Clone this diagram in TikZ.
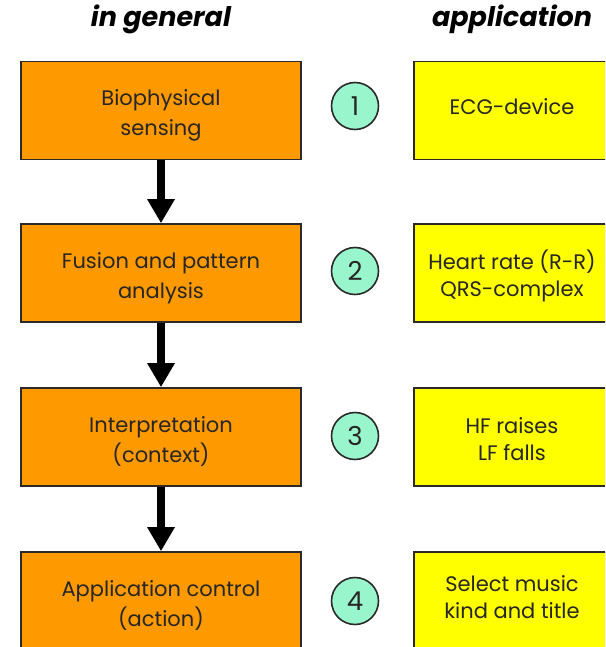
\documentclass[tikz,border=0pt]{standalone}
\usepackage{fontspec}
\setmainfont{Poppins}
\usetikzlibrary{arrows.meta}
\definecolor{boxorange}{HTML}{FF9900}
\definecolor{boxyellow}{HTML}{FFFF00}
\definecolor{mint}{HTML}{99F5CC}
\definecolor{edge}{HTML}{2A2A2A}
\definecolor{txt}{HTML}{262626}
\begin{document}
\begin{tikzpicture}[x=1pt,y=-1pt,
  genbox/.style={draw=edge,line width=1.6pt,fill=boxorange,minimum width=280pt,minimum height=98pt,
    align=center,text=txt,font=\fontsize{21}{30}\selectfont,inner sep=0pt},
  gentext/.style={align=center,text=txt,font=\fontsize{21}{30}\selectfont,inner sep=0pt},
  appbox/.style={draw=edge,line width=1.6pt,fill=boxyellow,minimum width=196pt,minimum height=98pt,
    inner sep=0pt},
  apptext/.style={align=center,text=txt,font=\fontsize{21}{27}\selectfont,inner sep=0pt},
  numcirc/.style={circle,draw=edge,line width=1.6pt,fill=mint,minimum size=47pt,inner sep=0pt,
    text=txt,font=\fontsize{26}{26}\selectfont},
  heading/.style={font=\fontsize{27}{27}\selectfont\bfseries\itshape,text=black},
  flow/.style={line width=8pt,-{Triangle[width=26pt,length=24pt]}}]
\useasboundingbox (0,0) rectangle (605,647);
\clip (0,0) rectangle (605,647);
\node[heading] (h1) at (161,19) {in general};
\node[heading] (h2) at (512,19) {application};
\node[genbox] (g1) at (161,110.5) {};
\node[genbox] (g2) at (161,273) {};
\node[genbox] (g3) at (161,437) {};
\node[genbox] (g4) at (161,601) {};
\node[gentext] (t1) at (161,115) {Biophysical\\sensing};
\node[gentext] (t2) at (161,278) {Fusion and pattern\\analysis};
\node[gentext] (t3) at (161,441) {Interpretation\\(context)};
\node[gentext] (t4) at (161,605) {Application control\\(action)};
\node[appbox] (a1) at (512,110.5) {};
\node[appbox] (a2) at (512,273) {};
\node[appbox] (a3) at (512,437) {};
\node[appbox] (a4) at (512,601) {};
\node[apptext] (s1) at (512,107) {ECG-device};
\node[apptext] (s2) at (512,276) {Heart rate (R-R)\\QRS-complex};
\node[apptext] (s3) at (512,439) {HF raises\\LF falls};
\node[apptext] (s4) at (512,597) {Select music\\kind and title};
\node[numcirc] (n1) at (355,106) {1};
\node[numcirc] (n2) at (355,271) {2};
\node[numcirc] (n3) at (355,436) {3};
\node[numcirc] (n4) at (355,601) {4};
\draw[flow] (g1.south) -- (g2.north);
\draw[flow] (g2.south) -- (g3.north);
\draw[flow] (g3.south) -- (g4.north);
\end{tikzpicture}
\end{document}
